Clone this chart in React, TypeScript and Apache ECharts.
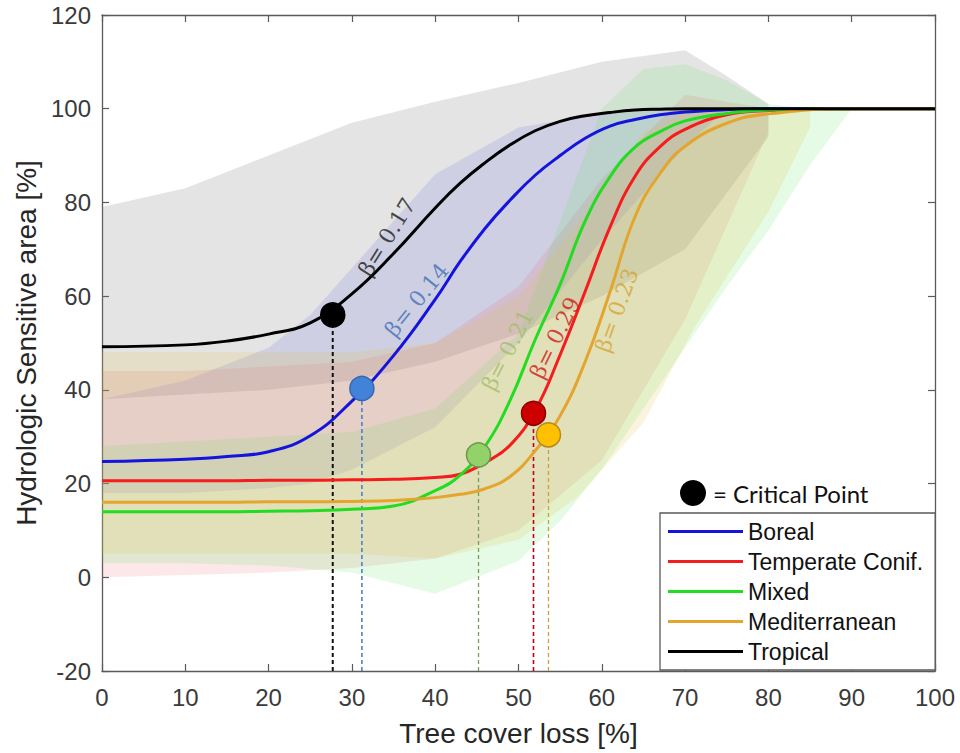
import React, { useEffect, useRef } from "react";
import * as echarts from "echarts";

// Tree cover loss [%] at which each fitted curve is sampled
const lossGrid = [0, 10, 15, 20, 25, 30, 35, 40, 43, 46, 49, 52, 55, 58, 61, 64, 67, 70, 75, 80, 90, 100];

// Hydrologic sensitive area [%] for each biome
const borealHsa = [24.7, 25.2, 25.8, 26.8, 30.2, 37.6, 47.3, 59.3, 67.4, 74.5, 80.5, 85.8, 90.0, 93.7, 96.3, 97.7, 98.7, 99.3, 99.8, 100, 100, 100];
const temperateHsa = [20.6, 20.6, 20.6, 20.7, 20.7, 20.8, 20.9, 21.3, 22.0, 24.5, 28.2, 35.6, 47.5, 61.0, 74.8, 85.6, 91.9, 95.6, 98.7, 99.6, 100, 100];
const mixedHsa = [14.0, 14.0, 14.0, 14.1, 14.2, 14.5, 15.2, 18.5, 21.8, 28.0, 37.8, 50.7, 62.5, 76.0, 85.5, 91.8, 95.1, 97.4, 99.0, 99.7, 100, 100];
const mediterraneanHsa = [16.0, 16.0, 16.0, 16.1, 16.1, 16.2, 16.4, 17.0, 17.7, 18.9, 21.5, 27.0, 34.5, 46.0, 61.0, 77.0, 86.2, 92.0, 96.9, 98.9, 100, 100];
const tropicalHsa = [49.2, 49.6, 50.4, 51.9, 54.3, 60.5, 69.1, 78.8, 84.1, 88.5, 92.3, 95.3, 97.3, 98.5, 99.2, 99.7, 99.9, 100, 100, 100, 100, 100];

const biomeNames = ["Boreal", "Temperate Conif.", "Mixed", "Mediterranean", "Tropical"];

// Critical points (loss, HSA)
const criticalLoss = [31.2, 51.8, 45.2, 53.6, 27.7];
const criticalHsa = [40.3, 35.0, 26.1, 30.4, 56.0];

// Steepness annotations placed along each curve
const betaText = ["β= 0.14", "β= 0.29", "β= 0.21", "β= 0.23", "β= 0.17"];
const betaLoss = [37.8, 54.4, 48.7, 61.8, 34.2];
const betaHsa = [59.2, 51.1, 48.5, 57.0, 72.6];

// Spread envelopes: loss positions, lower and upper HSA
const tropicalBandLoss = [0, 10, 20, 30, 40, 50, 60, 70, 75, 80];
const tropicalBandLow = [38, 39, 40, 42, 46, 52, 60, 70, 82, 94];
const tropicalBandHigh = [79, 83, 90, 97, 101.5, 105.5, 110, 112.5, 107, 101];

const borealBandLoss = [0, 10, 20, 25, 30, 40, 50, 60, 70, 75];
const borealBandLow = [18, 18, 19, 20, 23, 32, 50, 72, 92, 100];
const borealBandHigh = [38, 42, 49, 56, 66, 86, 96, 99, 100, 100];

const temperateBandLoss = [0, 10, 20, 30, 40, 50, 60, 70, 80];
const temperateBandLow = [0, 0.5, 1, 2, 4, 10, 25, 55, 95];
const temperateBandHigh = [44, 44, 45, 46, 50, 62, 85, 103, 100];

const mixedBandLoss = [0, 10, 20, 30, 40, 50, 55, 60, 65, 70, 75, 80, 85, 90];
const mixedBandLow = [3, 3, 2.5, 1, -3.5, 3.5, 12, 23, 36, 49, 62, 74, 88, 100];
const mixedBandHigh = [28, 29, 30, 31, 36, 52, 76, 100, 108.5, 109.5, 106, 101, 100, 100];

const medBandLoss = [0, 10, 20, 30, 40, 50, 57, 65, 71, 80, 85];
const medBandLow = [5, 5, 5, 5, 4, 8, 17, 33, 53, 78, 96];
const medBandHigh = [48, 48, 48, 48, 50, 60, 75, 95, 100, 100, 100];

const curveValues = [borealHsa, temperateHsa, mixedHsa, mediterraneanHsa, tropicalHsa];

// Styling
const curveColors = ["#1414dc", "#f41c1c", "#22dc22", "#e3a52e", "#000000"];
const dotFill = ["#4282d8", "#cc0000", "#93d16a", "#ffc000", "#000000"];
const dotBorder = ["#3568b0", "#8a0000", "#6a9a4a", "#b38a1e", "#000000"];
const dropColor = ["#4a7fd0", "#c0001a", "#7c9a5c", "#c9a13a", "#111111"];
const dropWidth = [1.6, 1.6, 1.3, 1.3, 2];
const betaColor = ["#3f6fb5", "#d01818", "#9fbf6a", "#d4a530", "#1a1a1a"];
const betaAngle = [51, 64, 63, 70, 58];

const bandSpecs = [
  { xs: tropicalBandLoss, lo: tropicalBandLow, hi: tropicalBandHigh, fill: "rgba(120,120,120,0.2)" },
  { xs: borealBandLoss, lo: borealBandLow, hi: borealBandHigh, fill: "rgba(90,90,220,0.15)" },
  { xs: temperateBandLoss, lo: temperateBandLow, hi: temperateBandHigh, fill: "rgba(235,90,90,0.14)" },
  { xs: mixedBandLoss, lo: mixedBandLow, hi: mixedBandHigh, fill: "rgba(80,230,80,0.15)" },
  { xs: medBandLoss, lo: medBandLow, hi: medBandHigh, fill: "rgba(225,195,70,0.18)" },
];

const SANS = "'Liberation Sans', Arial, sans-serif";

function bandSeries(spec: { xs: number[]; lo: number[]; hi: number[]; fill: string }) {
  return {
    type: "custom",
    coordinateSystem: "cartesian2d",
    silent: true,
    z: 1,
    data: spec.xs.map((x, i) => [x, spec.lo[i], spec.hi[i]]),
    encode: { x: 0, y: [1, 2] },
    renderItem: (params: any, api: any) => {
      if (params.dataIndex !== 0) return null;
      const pts: number[][] = [];
      for (let i = 0; i < spec.xs.length; i++) pts.push(api.coord([spec.xs[i], spec.hi[i]]));
      for (let i = spec.xs.length - 1; i >= 0; i--) pts.push(api.coord([spec.xs[i], spec.lo[i]]));
      return { type: "polygon", shape: { points: pts }, style: { fill: spec.fill, stroke: "none" } };
    },
  };
}

export default function App() {
  const ref = useRef<HTMLDivElement>(null);

  useEffect(() => {
    if (!ref.current) return;
    const chart = echarts.init(ref.current, undefined, { renderer: "svg" });

    const series: any[] = [];
    bandSpecs.forEach((b) => series.push(bandSeries(b)));

    // fitted curves
    biomeNames.forEach((name, k) => {
      series.push({
        name,
        type: "line",
        data: lossGrid.map((x, i) => [x, curveValues[k][i]]),
        smooth: 0.45,
        showSymbol: false,
        symbol: "none",
        color: curveColors[k],
        lineStyle: { color: curveColors[k], width: 3 },
        z: 3,
      });
    });

    // drop lines from critical points to the axis
    biomeNames.forEach((_, k) => {
      series.push({
        type: "line",
        data: [
          [criticalLoss[k], -20],
          [criticalLoss[k], criticalHsa[k]],
        ],
        showSymbol: false,
        symbol: "none",
        silent: true,
        lineStyle: { color: dropColor[k], width: dropWidth[k], type: [4, 3] },
        z: 2,
      });
    });

    // critical points
    biomeNames.forEach((_, k) => {
      series.push({
        type: "scatter",
        data: [[criticalLoss[k], criticalHsa[k]]],
        symbolSize: 24,
        itemStyle: { color: dotFill[k], borderColor: dotBorder[k], borderWidth: 1.5, opacity: 1 },
        silent: true,
        z: 5,
      });
    });

    // β annotations
    biomeNames.forEach((_, k) => {
      series.push({
        type: "scatter",
        data: [[betaLoss[k], betaHsa[k]]],
        symbolSize: 0,
        silent: true,
        z: 6,
        label: {
          show: true,
          position: "inside",
          formatter: betaText[k],
          rotate: betaAngle[k],
          color: betaColor[k],
          fontFamily: "'DejaVu Serif', serif",
          fontSize: 22,
          align: "center",
          verticalAlign: "middle",
        },
      });
    });

    const axisLine = { show: true, onZero: false, lineStyle: { color: "#5a5a5a", width: 1.3 } };
    const axisTick = { show: true, inside: true, length: 7, lineStyle: { color: "#5a5a5a", width: 1.2 } };

    chart.setOption({
      animation: false,
      textStyle: { fontFamily: SANS },
      grid: { left: 102, top: 15, right: 25, bottom: 82, containLabel: false },
      legend: {
        data: biomeNames,
        orient: "vertical",
        left: 660,
        top: 513,
        icon: "rect",
        itemWidth: 75,
        itemHeight: 3,
        itemGap: 7,
        padding: [7, 12, 7, 8],
        backgroundColor: "#ffffff",
        borderColor: "#5a5a5a",
        borderWidth: 1.3,
        borderRadius: 0,
        selectedMode: false,
        textStyle: { fontFamily: SANS, fontSize: 23, color: "#111", lineHeight: 23 },
        z: 10,
      },
      xAxis: [
        {
          type: "value",
          min: 0,
          max: 100,
          interval: 10,
          position: "bottom",
          name: "Tree cover loss [%]",
          nameLocation: "middle",
          nameGap: 48,
          nameTextStyle: { fontFamily: SANS, fontSize: 28, color: "#262626" },
          axisLine,
          axisTick,
          axisLabel: { fontFamily: SANS, fontSize: 24, color: "#3a3a3a", margin: 14 },
          splitLine: { show: false },
        },
        {
          type: "value",
          min: 0,
          max: 100,
          interval: 10,
          position: "top",
          axisLine,
          axisTick,
          axisLabel: { show: false },
          splitLine: { show: false },
        },
      ],
      yAxis: [
        {
          type: "value",
          min: -20,
          max: 120,
          interval: 20,
          position: "left",
          name: "Hydrologic Sensitive area [%]",
          nameLocation: "middle",
          nameRotate: 90,
          nameGap: 62,
          nameTextStyle: { fontFamily: SANS, fontSize: 28, color: "#262626" },
          axisLine,
          axisTick,
          axisLabel: { fontFamily: SANS, fontSize: 24, color: "#3a3a3a", margin: 11 },
          splitLine: { show: false },
        },
        {
          type: "value",
          min: -20,
          max: 120,
          interval: 20,
          position: "right",
          axisLine,
          axisTick,
          axisLabel: { show: false },
          splitLine: { show: false },
        },
      ],
      graphic: [
        {
          type: "group",
          z: 20,
          children: [
            { type: "circle", shape: { cx: 693, cy: 493, r: 13 }, style: { fill: "#000" } },
            {
              type: "text",
              x: 713,
              y: 493,
              style: {
                text: "= Critical Point",
                fontFamily: "Lato, 'Open Sans', sans-serif",
                fontSize: 24,
                fill: "#111",
                verticalAlign: "middle",
                align: "left",
              },
            },
          ],
        },
      ],
      series,
    });

    return () => chart.dispose();
  }, []);

  return (
    <div
      ref={ref}
      style={{ position: "fixed", left: 0, top: 0, width: 960, height: 753, background: "#fff" }}
    />
  );
}
